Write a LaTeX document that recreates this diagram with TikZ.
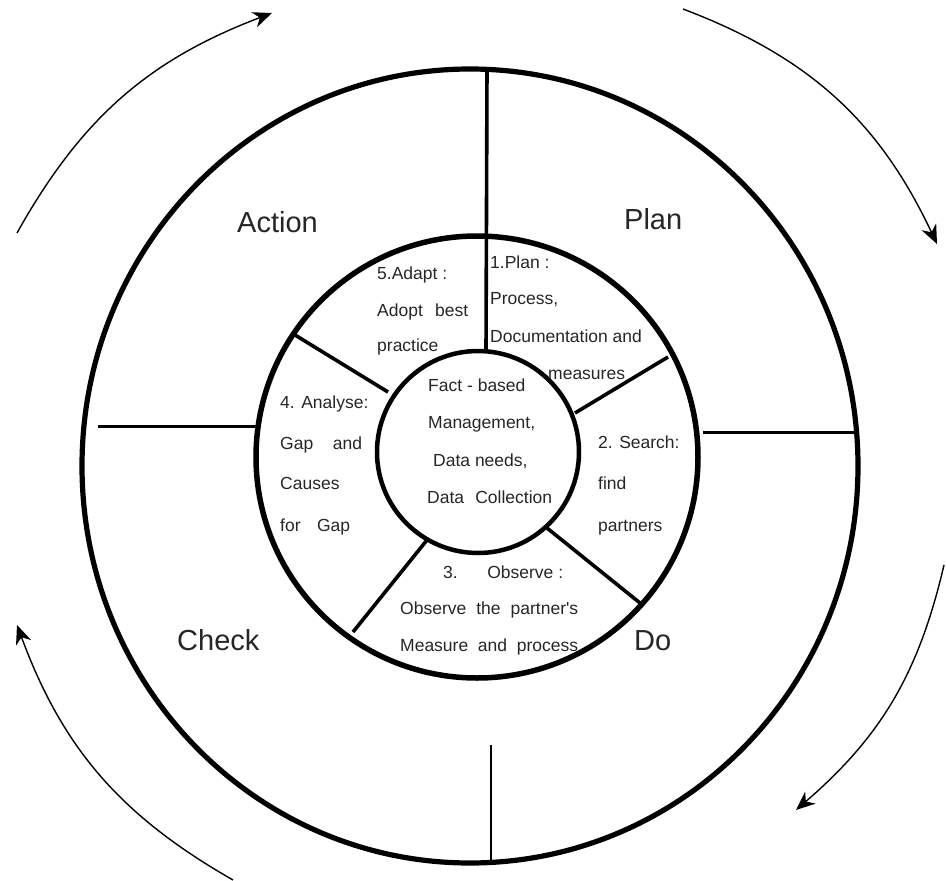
\documentclass[tikz,border=0pt]{standalone}
\usepackage{fontspec}
\setmainfont{Liberation Sans}
\usetikzlibrary{arrows.meta}

\tikzset{
  outerring/.style={draw=black, line width=5.2pt},
  midring/.style={draw=black, line width=5.5pt},
  innerring/.style={draw=black, line width=4.5pt},
  spoke/.style={draw=black, line width=3.6pt},
  axis/.style={draw=black, line width=3pt},
  cyclearrow/.style={draw=black, line width=1.4pt,
    -{Stealth[length=19pt,width=16pt,inset=6pt]}},
  phase/.style={font=\fontsize{29}{32}\selectfont, text=black!85,
    inner sep=0pt, anchor=base west},
  steptext/.style={font=\fontsize{17.5}{20}\selectfont, text=black!85,
    inner sep=0pt, anchor=base west},
}

\begin{document}
\begin{tikzpicture}[x=1pt,y=-1pt]
\useasboundingbox (0,0) rectangle (946,881);

% ring centres
\coordinate (co) at (470,466);
\coordinate (cm) at (477,457);
\coordinate (ci) at (478,452);

% three rings
\draw[outerring] (co) ellipse [x radius=388pt, y radius=397pt];
\draw[midring] (cm) circle [radius=221pt];
\draw[innerring] (ci) circle [radius=101pt];

% quadrant lines of the outer ring
\coordinate (qt1) at (487,68);  \coordinate (qt2) at (486,352);
\coordinate (ql1) at (98,426);  \coordinate (ql2) at (256,426);
\coordinate (qr1) at (703,432); \coordinate (qr2) at (858,432);
\coordinate (qb1) at (491,745); \coordinate (qb2) at (491,863);
\draw[spoke] (qt1) -- (qt2);
\draw[axis] (ql1) -- (ql2);
\draw[axis] (qr1) -- (qr2);
\draw[axis, line width=2.4pt] (qb1) -- (qb2);

% spokes of the middle ring
\coordinate (sa1) at (295,335); \coordinate (sa2) at (388,392);
\coordinate (sb1) at (575,413); \coordinate (sb2) at (668,357);
\coordinate (sc1) at (547,528); \coordinate (sc2) at (640,603);
\coordinate (sd1) at (427,540); \coordinate (sd2) at (353,632);
\draw[spoke] (sa1) -- (sa2);
\draw[spoke] (sb1) -- (sb2);
\draw[spoke] (sc1) -- (sc2);
\draw[spoke] (sd1) -- (sd2);

% PDCA phase labels
\node[phase] (action) at (237,232) {Action};
\node[phase] (plan)   at (624,229) {Plan};
\node[phase] (check)  at (177,650) {Check};
\node[phase] (do)     at (634,650) {Do};

% step 1
\node[steptext] (p1) at (490,268) {1.Plan :};
\node[steptext] (p2) at (490,304) {Process,};
\node[steptext] (p3) at (490,342) {Documentation and};
\node[steptext] (p4) at (548,379) {measures};

% step 2
\node[steptext] (s1) at (598,448) {2. Search:};
\node[steptext] (s2) at (598,489) {find};
\node[steptext] (s3) at (598,531) {partners};

% step 3
\node[steptext] (o1) at (443,578) {\makebox[120pt][l]{3.\hfill Observe :}};
\node[steptext] (o2) at (400,614) {\makebox[178pt][s]{Observe the partner\textquotesingle s}};
\node[steptext] (o3) at (400,651) {\makebox[178pt][s]{Measure and process}};

% step 4
\node[steptext] (a1) at (280,408) {4. Analyse:};
\node[steptext] (a2) at (280,449) {\makebox[82pt][s]{Gap and}};
\node[steptext] (a3) at (280,489) {Causes};
\node[steptext] (a4) at (280,531) {\makebox[70pt][s]{for Gap}};

% step 5
\node[steptext] (d1) at (377,279) {5.Adapt :};
\node[steptext] (d2) at (377,316) {\makebox[91pt][s]{Adopt best}};
\node[steptext] (d3) at (377,351) {practice};

% hub
\node[steptext] (h1) at (428,391) {Fact - based};
\node[steptext] (h2) at (428,428) {Management,};
\node[steptext] (h3) at (433,466) {Data needs,};
\node[steptext] (h4) at (427,503) {\makebox[125pt][s]{Data Collection}};

% clockwise cycle arrows
\coordinate (ua) at (17,233);  \coordinate (ub) at (272,13);
\coordinate (va) at (683,9);   \coordinate (vb) at (937,244);
\coordinate (wa) at (944,565); \coordinate (wb) at (796,810);
\coordinate (xa) at (233,880); \coordinate (xb) at (17,625);
\draw[cyclearrow] (ua) to[bend left=20] (ub);
\draw[cyclearrow] (va) to[bend left=22] (vb);
\draw[cyclearrow] (wa) to[bend left=18] (wb);
\draw[cyclearrow] (xa) to[bend left=20] (xb);
\end{tikzpicture}
\end{document}
